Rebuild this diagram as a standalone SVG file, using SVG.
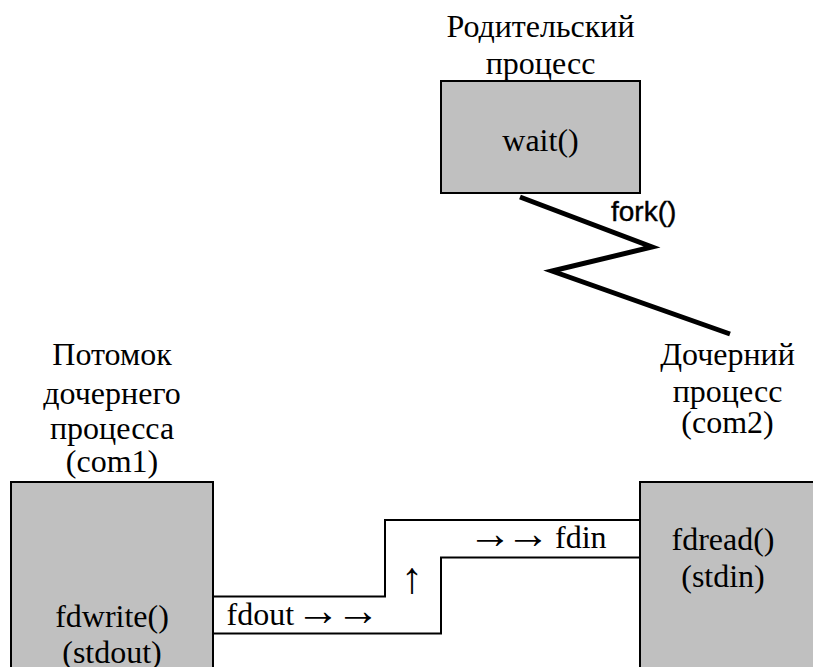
<svg xmlns="http://www.w3.org/2000/svg" width="813" height="667" viewBox="0 0 813 667">
  <style>
    .box { fill: #c0c0c0; stroke: #000; stroke-width: 2; }
    .lbl { font-family: "Liberation Serif", "Times New Roman", serif; font-size: 32px; fill: #000; text-anchor: middle; }
    .start { text-anchor: start; }
    .arr { font-size: 44px; }
    .pipe { fill: none; stroke: #000; stroke-width: 2; }
    .fork { fill: none; stroke: #000; stroke-width: 5; stroke-linejoin: miter; }
    .sans { font-family: "Liberation Sans", Arial, sans-serif; font-size: 28px; fill: #000; stroke: #000; stroke-width: 0.4; }
  </style>
  <rect width="813" height="667" fill="#fff"/>

  <!-- parent process -->
  <g id="parent">
    <text class="lbl" x="540.5" y="36.5">Родительский</text>
    <text class="lbl" x="540.5" y="74">процесс</text>
    <rect class="box" x="441" y="81" width="199" height="112"/>
    <text class="lbl" x="540.5" y="151">wait()</text>
  </g>

  <!-- grandchild process (writer) -->
  <g id="com1">
    <text class="lbl" x="112" y="365">Потомок</text>
    <text class="lbl" x="112" y="404">дочернего</text>
    <text class="lbl" x="112" y="439">процесса</text>
    <text class="lbl" x="112" y="472">(com1)</text>
    <rect class="box" x="11" y="482" width="202" height="200"/>
    <text class="lbl" x="112" y="627">fdwrite()</text>
    <text class="lbl" x="112" y="663">(stdout)</text>
  </g>

  <!-- child process (reader) -->
  <g id="com2">
    <text class="lbl" x="727.5" y="365">Дочерний</text>
    <text class="lbl" x="727.5" y="401.5">процесс</text>
    <text class="lbl" x="727.5" y="432.5">(com2)</text>
    <rect class="box" x="640" y="482" width="200" height="200"/>
    <text class="lbl" x="723" y="550">fdread()</text>
    <text class="lbl" x="723" y="587">(stdin)</text>
  </g>

  <!-- connectors: fork zigzag and the pipe channel -->
  <g id="connectors">
    <path class="fork" d="M520,197 L652,247 L552,271 L730,334"/>
    <text class="sans" x="611" y="221">fork()</text>

    <path class="pipe" d="M213,596.5 H385 V520 H640"/>
    <path class="pipe" d="M213,633.5 H441 V557.5 H640"/>
    <text class="lbl start" x="226.5" y="625">fdout <tspan class="arr" x="296">→</tspan><tspan class="arr" x="336">→</tspan></text>
    <text class="lbl arr" x="412" y="593">↑</text>
    <text class="lbl start" x="468" y="548"><tspan class="arr">→</tspan><tspan class="arr" x="506">→</tspan><tspan x="555">fdin</tspan></text>
  </g>
</svg>
